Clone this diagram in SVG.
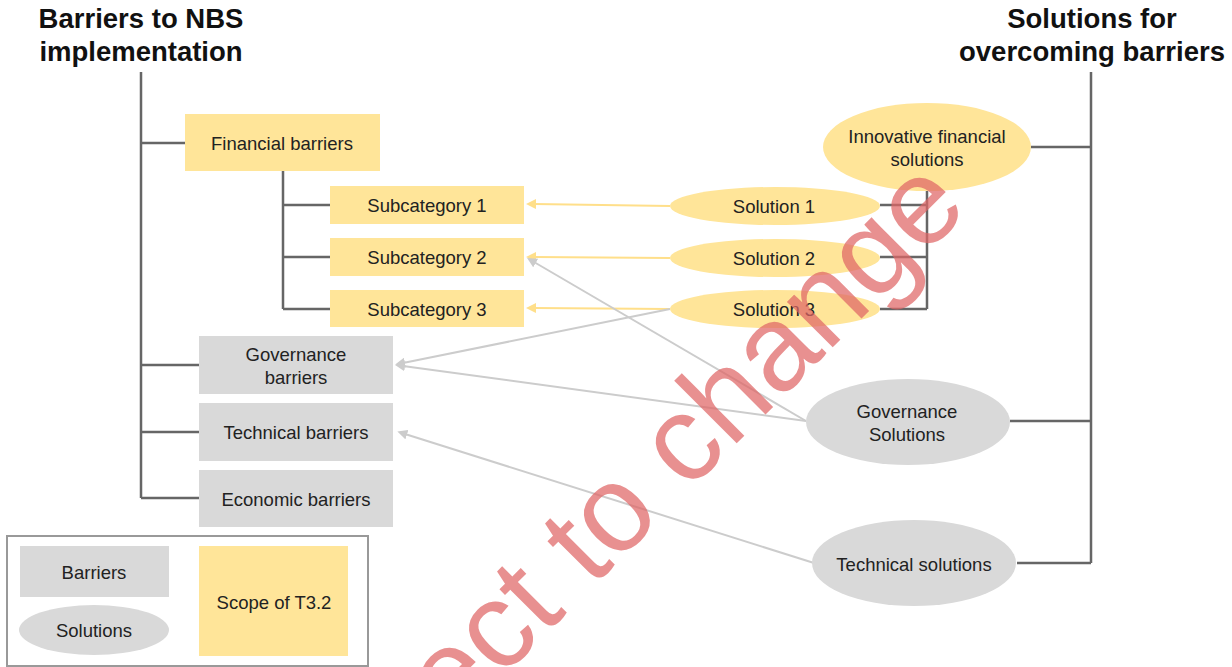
<svg xmlns="http://www.w3.org/2000/svg" width="1232" height="667" viewBox="0 0 1232 667">
  <defs>
    <style>
      text { font-family: "Liberation Sans", Arial, sans-serif; fill: #222; }
      .title { font-size: 27.5px; font-weight: bold; fill: #111; text-anchor: middle; }
      .lbl { font-size: 18.5px; text-anchor: middle; dominant-baseline: central; }
      .yel { fill: #ffe599; }
      .gry { fill: #d9d9d9; }
      .tree { stroke: #666; stroke-width: 2.5; fill: none; }
      .ya { stroke: #ffdf8a; stroke-width: 2; fill: none; marker-end: url(#ahY); }
      .ga { stroke: #cccccc; stroke-width: 2; fill: none; marker-end: url(#ahG); }
      .wm { font-size: 122px; fill: #e06666; opacity: 0.72; }
    </style>
    <marker id="ahY" viewBox="0 0 10 10" refX="2" refY="5" markerWidth="5" markerHeight="5" orient="auto" markerUnits="strokeWidth">
      <path d="M0,0 L10,5 L0,10 z" fill="#ffdf8a"/>
    </marker>
    <marker id="ahG" viewBox="0 0 10 10" refX="2" refY="5" markerWidth="5" markerHeight="5" orient="auto" markerUnits="strokeWidth">
      <path d="M0,0 L10,5 L0,10 z" fill="#cccccc"/>
    </marker>
  </defs>

  <rect width="1232" height="667" fill="#ffffff"/>

  <!-- headings -->
  <text class="title" x="141" y="28">Barriers to NBS</text>
  <text class="title" x="141" y="61">implementation</text>
  <text class="title" x="1092" y="28">Solutions for</text>
  <text class="title" x="1092" y="61">overcoming barriers</text>

  <!-- tree lines and arrows -->
  <g id="connectors">
    <path class="tree" d="M141,72 V498 M141,143 H185 M141,365 H199 M141,432 H199 M141,498 H199"/>
    <path class="tree" d="M283,171 V309 M283,205 H330 M283,257 H330 M283,309 H330"/>
    <path class="tree" d="M1091,72 V563 M1031,147 H1091 M1010,421 H1091 M1017,563 H1091"/>
    <path class="tree" d="M927,190 V309 M880,205 H927 M880,257 H927 M880,309 H927"/>

    <path class="ya" d="M670,206 L534,204"/>
    <path class="ya" d="M670,258 L534,257"/>
    <path class="ya" d="M670,309 L534,308"/>

    <path class="ga" d="M806,421 L534,262"/>
    <path class="ga" d="M670,309 L403,363"/>
    <path class="ga" d="M806,421 L403,366"/>
    <path class="ga" d="M814,563 L405,434"/>
  </g>

  <!-- barriers -->
  <g id="financial-barriers">
    <rect class="yel" x="185" y="114" width="195" height="57"/>
    <text class="lbl" x="282" y="143">Financial barriers</text>
  </g>
  <g id="subcategory-1">
    <rect class="yel" x="330" y="186" width="194" height="38"/>
    <text class="lbl" x="427" y="205">Subcategory 1</text>
  </g>
  <g id="subcategory-2">
    <rect class="yel" x="330" y="238" width="194" height="38"/>
    <text class="lbl" x="427" y="257">Subcategory 2</text>
  </g>
  <g id="subcategory-3">
    <rect class="yel" x="330" y="290" width="194" height="37"/>
    <text class="lbl" x="427" y="309">Subcategory 3</text>
  </g>
  <g id="governance-barriers">
    <rect class="gry" x="199" y="336" width="194" height="58"/>
    <text class="lbl" x="296" y="354">Governance</text>
    <text class="lbl" x="296" y="377">barriers</text>
  </g>
  <g id="technical-barriers">
    <rect class="gry" x="199" y="403" width="194" height="58"/>
    <text class="lbl" x="296" y="432">Technical barriers</text>
  </g>
  <g id="economic-barriers">
    <rect class="gry" x="199" y="470" width="194" height="57"/>
    <text class="lbl" x="296" y="499">Economic barriers</text>
  </g>

  <!-- solutions -->
  <g id="innovative-financial-solutions">
    <ellipse class="yel" cx="927" cy="147" rx="104" ry="44"/>
    <text class="lbl" x="927" y="136">Innovative financial</text>
    <text class="lbl" x="927" y="159">solutions</text>
  </g>
  <g id="solution-1">
    <ellipse class="yel" cx="775" cy="206" rx="105" ry="19"/>
    <text class="lbl" x="774" y="206">Solution 1</text>
  </g>
  <g id="solution-2">
    <ellipse class="yel" cx="775" cy="258" rx="105" ry="19"/>
    <text class="lbl" x="774" y="258">Solution 2</text>
  </g>
  <g id="solution-3">
    <ellipse class="yel" cx="775" cy="309" rx="105" ry="19"/>
    <text class="lbl" x="774" y="309">Solution 3</text>
  </g>
  <g id="governance-solutions">
    <ellipse class="gry" cx="908" cy="422" rx="102" ry="43"/>
    <text class="lbl" x="907" y="411">Governance</text>
    <text class="lbl" x="907" y="434">Solutions</text>
  </g>
  <g id="technical-solutions">
    <ellipse class="gry" cx="914" cy="563" rx="102" ry="43"/>
    <text class="lbl" x="914" y="564">Technical solutions</text>
  </g>

  <!-- key -->
  <g id="legend">
    <rect x="7" y="536" width="361" height="130" fill="#ffffff" stroke="#999" stroke-width="2"/>
    <rect class="gry" x="20" y="546" width="149" height="51"/>
    <text class="lbl" x="94" y="572">Barriers</text>
    <ellipse class="gry" cx="94" cy="630" rx="75" ry="25"/>
    <text class="lbl" x="94" y="630">Solutions</text>
    <rect class="yel" x="199" y="546" width="149" height="110"/>
    <text class="lbl" x="274" y="602">Scope of T3.2</text>
  </g>

  <!-- draft stamp across the page -->
  <text class="wm" x="280" y="900" transform="rotate(-45 280 900)">Subject to change</text>
</svg>
